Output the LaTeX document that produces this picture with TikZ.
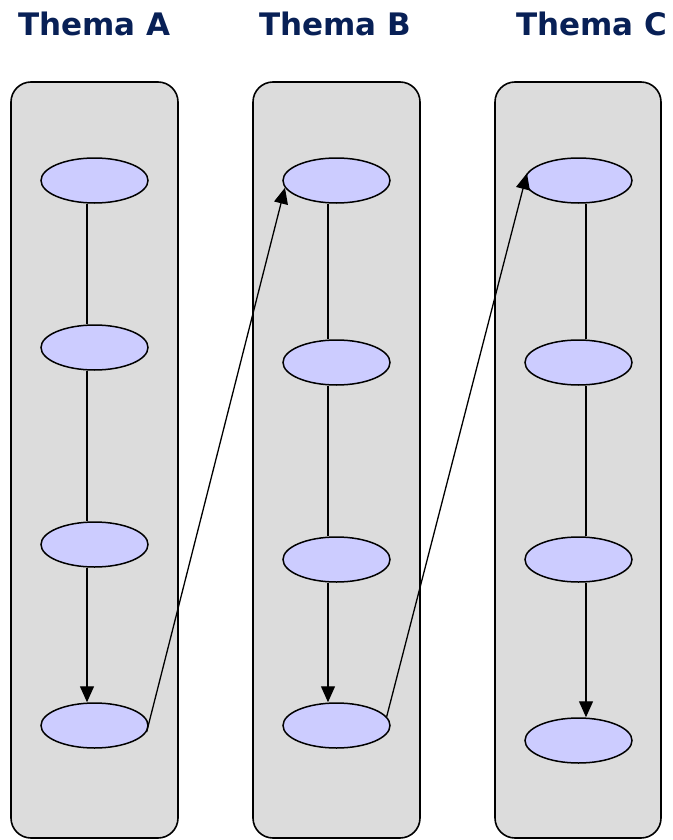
\documentclass[tikz,border=0pt]{standalone}
\usepackage{fontspec}
\setmainfont{DejaVu Sans}
\usetikzlibrary{shapes.geometric,arrows.meta}
\definecolor{titleblue}{RGB}{8,32,86}
\definecolor{panelgray}{RGB}{220,220,220}
\definecolor{nodeblue}{RGB}{204,204,255}
\tikzset{
  panel/.style={draw=black, line width=1.6pt, fill=panelgray, rounded corners=20pt},
  topic/.style={ellipse, draw=black, line width=1.5pt, fill=nodeblue, minimum width=107pt, minimum height=45pt, inner sep=0pt},
  title/.style={anchor=base west, inner sep=0pt, text=titleblue, font=\fontsize{31}{36}\selectfont\bfseries},
  link/.style={draw=black, line width=1.3pt},
  arr/.style={link, -{Triangle[length=16pt,width=14pt]}}
}
\begin{document}
\begin{tikzpicture}[x=1pt,y=-1pt]
\useasboundingbox (0,0) rectangle (672,840);
% titles
\node[title] (tA) at (18,36) {Thema A};
\node[title] (tB) at (259,36) {Thema B};
\node[title] (tC) at (516,36) {Thema C};
% panels
\draw[panel] (11,82) rectangle (178,838);
\draw[panel] (253,82) rectangle (420,838);
\draw[panel] (495,82) rectangle (661,838);
% nodes A
\node[topic] (A1) at (94.5,180.5) {};
\node[topic] (A2) at (94.5,347.5) {};
\node[topic] (A3) at (94.5,544.5) {};
\node[topic] (A4) at (94.5,725.5) {};
% nodes B
\node[topic] (B1) at (336.5,180.5) {};
\node[topic] (B2) at (336.5,362.5) {};
\node[topic] (B3) at (336.5,559.5) {};
\node[topic] (B4) at (336.5,725.5) {};
% nodes C
\node[topic] (C1) at (578.5,180.5) {};
\node[topic] (C2) at (578.5,362.5) {};
\node[topic] (C3) at (578.5,559.5) {};
\node[topic] (C4) at (578.5,740.5) {};
% vertical connectors
\draw[link] ([xshift=-7.5pt]A1.south) -- ([xshift=-7.5pt]A2.north);
\draw[link] ([xshift=-7.5pt]A2.south) -- ([xshift=-7.5pt]A3.north);
\draw[arr]  ([xshift=-7.5pt]A3.south) -- ([xshift=-7.5pt]A4.north);
\draw[link] ([xshift=-8.5pt]B1.south) -- ([xshift=-8.5pt]B2.north);
\draw[link] ([xshift=-8.5pt]B2.south) -- ([xshift=-8.5pt]B3.north);
\draw[arr]  ([xshift=-8.5pt]B3.south) -- ([xshift=-8.5pt]B4.north);
\draw[link] ([xshift=7.5pt]C1.south) -- ([xshift=7.5pt]C2.north);
\draw[link] ([xshift=7.5pt]C2.south) -- ([xshift=7.5pt]C3.north);
\draw[arr]  ([xshift=7.5pt]C3.south) -- ([xshift=7.5pt]C4.north);
% cross connectors
\draw[arr] (A4.-7) -- (B1.188);
\draw[arr] (B4.10) -- (C1.172);
\end{tikzpicture}
\end{document}
